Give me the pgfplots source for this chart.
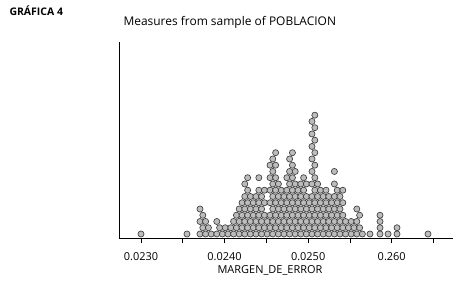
\documentclass[border=0pt]{standalone}
\usepackage{fontspec}
\setmainfont{Open Sans}
\usepackage{pgfplots}
\pgfplotsset{compat=1.18}
\definecolor{dotfill}{RGB}{188,188,188}
\definecolor{dotedge}{RGB}{60,60,60}

\begin{document}
\begin{tikzpicture}
\useasboundingbox (-119bp,-43bp) rectangle (339bp,238bp);
\begin{axis}[
  at={(0,0)}, anchor=south west,
  scale only axis, width=334bp, height=196bp,
  xmin=0.022737, xmax=0.026733, ymin=0.36, ymax=31.7,
  axis x line*=bottom, axis y line*=left,
  ytick=\empty,
  xtick={0.0230,0.0235,0.0240,0.0245,0.0250,0.0255,0.0260,0.0265},
  xticklabels={0.0230,,0.0240,,0.0250,,0.260,},
  tick align=outside, major tick length=5bp,
  xticklabel style={anchor=base, yshift=-17.5bp, font=\fontsize{11}{13}\selectfont},
  axis line style={line width=0.8bp, black},
  tick style={line width=0.6bp, black},
  clip=false,
]
\addplot[only marks, mark=*, mark size=3.05bp, mark options={fill=dotfill, draw=dotedge, line width=0.65bp}] table {
x y
0.023000 1
0.023550 1
0.023706 1
0.023706 3
0.023706 5
0.023773 1
0.023773 3
0.023840 1
0.023907 1
0.023907 3
0.023974 1
0.024041 1
0.024108 1
0.024108 3
0.024175 1
0.024175 3
0.024175 5
0.024242 1
0.024242 3
0.024242 5
0.024242 7
0.024242 9
0.024309 1
0.024309 3
0.024309 5
0.024309 7
0.024376 1
0.024376 3
0.024376 5
0.024376 7
0.024443 1
0.024443 3
0.024443 5
0.024443 7
0.024510 1
0.024510 3
0.024577 1
0.024577 3
0.024577 5
0.024577 7
0.024577 9
0.024577 11
0.024577 13
0.024644 1
0.024644 3
0.024644 5
0.024644 7
0.024644 9
0.024711 1
0.024711 3
0.024711 5
0.024711 7
0.024778 1
0.024778 3
0.024778 5
0.024778 7
0.024778 9
0.024778 11
0.024778 13
0.024845 1
0.024845 3
0.024845 5
0.024845 7
0.024845 9
0.024845 11
0.024912 1
0.024912 3
0.024912 5
0.024912 7
0.024912 9
0.024979 1
0.024979 3
0.024979 5
0.024979 7
0.024979 9
0.025046 1
0.025046 3
0.025046 5
0.025046 7
0.025046 9
0.025046 11
0.025046 13
0.025046 15
0.025046 17
0.025046 19
0.025113 1
0.025113 3
0.025113 5
0.025113 7
0.025113 9
0.025180 1
0.025180 3
0.025180 5
0.025180 7
0.025247 1
0.025247 3
0.025247 5
0.025247 7
0.025314 1
0.025314 3
0.025314 5
0.025314 7
0.025314 9
0.025314 11
0.025381 1
0.025381 3
0.025381 5
0.025381 7
0.025448 1
0.025448 3
0.025515 1
0.025515 3
0.025582 1
0.025582 3
0.025582 5
0.025649 1
0.023740 2
0.023740 4
0.023807 2
0.023941 2
0.024008 2
0.024075 2
0.024142 2
0.024142 4
0.024209 2
0.024209 4
0.024209 6
0.024276 2
0.024276 4
0.024276 6
0.024276 8
0.024276 10
0.024343 2
0.024343 4
0.024343 6
0.024410 2
0.024410 4
0.024410 6
0.024410 8
0.024410 10
0.024477 2
0.024477 4
0.024477 6
0.024477 8
0.024544 2
0.024544 4
0.024544 6
0.024544 8
0.024544 10
0.024544 12
0.024611 2
0.024611 4
0.024611 6
0.024611 8
0.024611 10
0.024611 12
0.024611 14
0.024678 2
0.024678 4
0.024678 6
0.024678 8
0.024745 2
0.024745 4
0.024745 6
0.024745 8
0.024745 10
0.024812 2
0.024812 4
0.024812 6
0.024812 8
0.024812 10
0.024812 12
0.024812 14
0.024879 2
0.024879 4
0.024879 6
0.024879 8
0.024946 2
0.024946 4
0.024946 6
0.024946 8
0.024946 10
0.025013 2
0.025013 4
0.025013 6
0.025080 2
0.025080 4
0.025080 6
0.025080 8
0.025080 10
0.025080 12
0.025080 14
0.025080 16
0.025080 18
0.025080 20
0.025147 2
0.025147 4
0.025147 6
0.025147 8
0.025214 2
0.025214 4
0.025214 6
0.025214 8
0.025281 2
0.025281 4
0.025281 6
0.025348 2
0.025348 4
0.025348 6
0.025348 8
0.025415 2
0.025415 4
0.025415 6
0.025415 8
0.025482 2
0.025549 2
0.025616 2
0.025616 4
0.025740 1
0.025860 1
0.025860 2
0.025860 3
0.025860 4
0.025956 1
0.026063 1
0.026063 2
0.026434 1
};
\end{axis}
\node[anchor=base west, font=\fontsize{12}{14}\selectfont] at (1bp,212bp) {Measures from sample of POBLACION};
\node[anchor=base west, font=\bfseries\fontsize{10.5}{12}\selectfont] at (-113bp,222bp) {GRÁFICA 4};
\node[anchor=base, font=\fontsize{11}{13}\selectfont] at (151bp,-35.3bp) {MARGEN\_DE\_ERROR};
\end{tikzpicture}
\end{document}
